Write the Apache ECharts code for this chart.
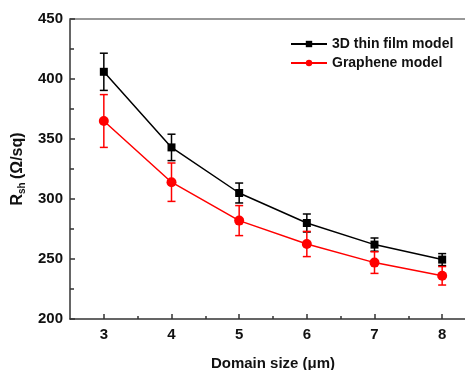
<!DOCTYPE html>
<html>
<head>
<meta charset="utf-8">
<script src="https://cdn.jsdelivr.net/npm/echarts@6/dist/echarts.min.js"></script>
<style>
html,body{margin:0;padding:0;background:#fff;}
#c{width:465px;height:370px;}
</style>
</head>
<body>
<div id="c"></div>
<script>
var domainSize = [3, 4, 5, 6, 7, 8];
var filmModel = [406, 343, 305, 280, 262, 249.5];
var filmErr = [15.5, 11, 8.3, 7.5, 5.5, 5];
var grapheneModel = [365, 314, 282, 262.5, 247, 236];
var grapheneErr = [22, 16, 12.5, 10.5, 9, 7.7];
var xMajorTicks = [3, 4, 5, 6, 7, 8];
var xMinorTicks = [3.5, 4.5, 5.5, 6.5, 7.5, 8.5];
var seriesNames = ['3D thin film model', 'Graphene model'];

var font = '"Liberation Sans", Arial, sans-serif';

function pairs(xs, ys) { return xs.map(function (x, i) { return [x, ys[i]]; }); }
function errData(xs, ys, es) { return xs.map(function (x, i) { return [x, ys[i] - es[i], ys[i] + es[i]]; }); }

function errRender(color) {
  return function (params, api) {
    var x = api.value(0);
    var lo = api.coord([x, api.value(1)]);
    var hi = api.coord([x, api.value(2)]);
    var hw = 4;
    var st = { stroke: color, lineWidth: 1.5 };
    return {
      type: 'group',
      children: [
        { type: 'line', shape: { x1: lo[0], y1: lo[1], x2: hi[0], y2: hi[1] }, style: st },
        { type: 'line', shape: { x1: lo[0] - hw, y1: lo[1], x2: lo[0] + hw, y2: lo[1] }, style: st },
        { type: 'line', shape: { x1: hi[0] - hw, y1: hi[1], x2: hi[0] + hw, y2: hi[1] }, style: st }
      ]
    };
  };
}

var chart = echarts.init(document.getElementById('c'), null, { renderer: 'canvas' });
var axisLineStyle = { color: '#333', width: 1.5 };

chart.setOption({
  animation: false,
  grid: { left: 70, right: -11, top: 19, bottom: 51, outerBoundsMode: 'none', containLabel: false },
  legend: {
    orient: 'vertical',
    left: 285,
    top: 32,
    itemWidth: 36,
    itemHeight: 8,
    itemGap: 5,
    data: seriesNames,
    textStyle: { fontFamily: font, fontWeight: 'bold', fontSize: 14, color: '#111' }
  },
  xAxis: [{
    type: 'value',
    min: 2.5,
    max: 8.5,
    name: 'Domain size (\u03bcm)',
    nameLocation: 'middle',
    nameGap: 37,
    nameTextStyle: { fontFamily: font, fontWeight: 'bold', fontSize: 15, color: '#111' },
    axisLine: { show: true, onZero: false, lineStyle: axisLineStyle },
    axisTick: { show: true, inside: true, length: 5, customValues: xMajorTicks, lineStyle: axisLineStyle },
    axisLabel: { customValues: xMajorTicks, fontFamily: font, fontWeight: 'bold', fontSize: 15, color: '#111', margin: 8 },
    splitLine: { show: false }
  }, {
    type: 'value',
    min: 2.5,
    max: 8.5,
    position: 'bottom',
    axisLine: { show: false },
    axisTick: { show: true, inside: true, length: 3, customValues: xMinorTicks, lineStyle: axisLineStyle },
    axisLabel: { show: false },
    splitLine: { show: false }
  }, {
    type: 'value',
    min: 2.5,
    max: 8.5,
    position: 'top',
    axisLine: { show: true, lineStyle: { color: '#777', width: 1.5 } },
    axisTick: { show: false },
    axisLabel: { show: false },
    splitLine: { show: false }
  }],
  yAxis: {
    type: 'value',
    min: 200,
    max: 450,
    interval: 50,
    name: '{r|R}{s|sh} {r|(\u03a9/sq)}',
    nameLocation: 'middle',
    nameGap: 39,
    nameRotate: 90,
    nameTextStyle: {
      fontFamily: font, fontWeight: 'bold', color: '#111',
      rich: {
        r: { fontFamily: font, fontWeight: 'bold', fontSize: 16, color: '#111', lineHeight: 18 },
        s: { fontFamily: font, fontWeight: 'bold', fontSize: 10, color: '#111', lineHeight: 18, verticalAlign: 'bottom', padding: [6, 0, 0, 0] }
      }
    },
    axisLine: { show: true, onZero: false, lineStyle: axisLineStyle },
    axisTick: { show: true, inside: true, length: 5, lineStyle: axisLineStyle },
    minorTick: { show: true, splitNumber: 2, length: 4, lineStyle: axisLineStyle },
    axisLabel: { fontFamily: font, fontWeight: 'bold', fontSize: 15, color: '#111', margin: 7 },
    splitLine: { show: false },
    minorSplitLine: { show: false }
  },
  series: [{
    name: seriesNames[0],
    type: 'line',
    data: pairs(domainSize, filmModel),
    symbol: 'rect',
    symbolSize: 8,
    showAllSymbol: true,
    z: 3,
    lineStyle: { color: '#000', width: 1.5 },
    itemStyle: { color: '#000' }
  }, {
    type: 'custom',
    data: errData(domainSize, filmModel, filmErr),
    renderItem: errRender('#000'),
    z: 2,
    silent: true
  }, {
    name: seriesNames[1],
    type: 'line',
    data: pairs(domainSize, grapheneModel),
    symbol: 'circle',
    symbolSize: 10,
    showAllSymbol: true,
    z: 4,
    lineStyle: { color: '#ff0000', width: 1.5 },
    itemStyle: { color: '#ff0000' }
  }, {
    type: 'custom',
    data: errData(domainSize, grapheneModel, grapheneErr),
    renderItem: errRender('#ff0000'),
    z: 2,
    silent: true
  }]
});
</script>
</body>
</html>
